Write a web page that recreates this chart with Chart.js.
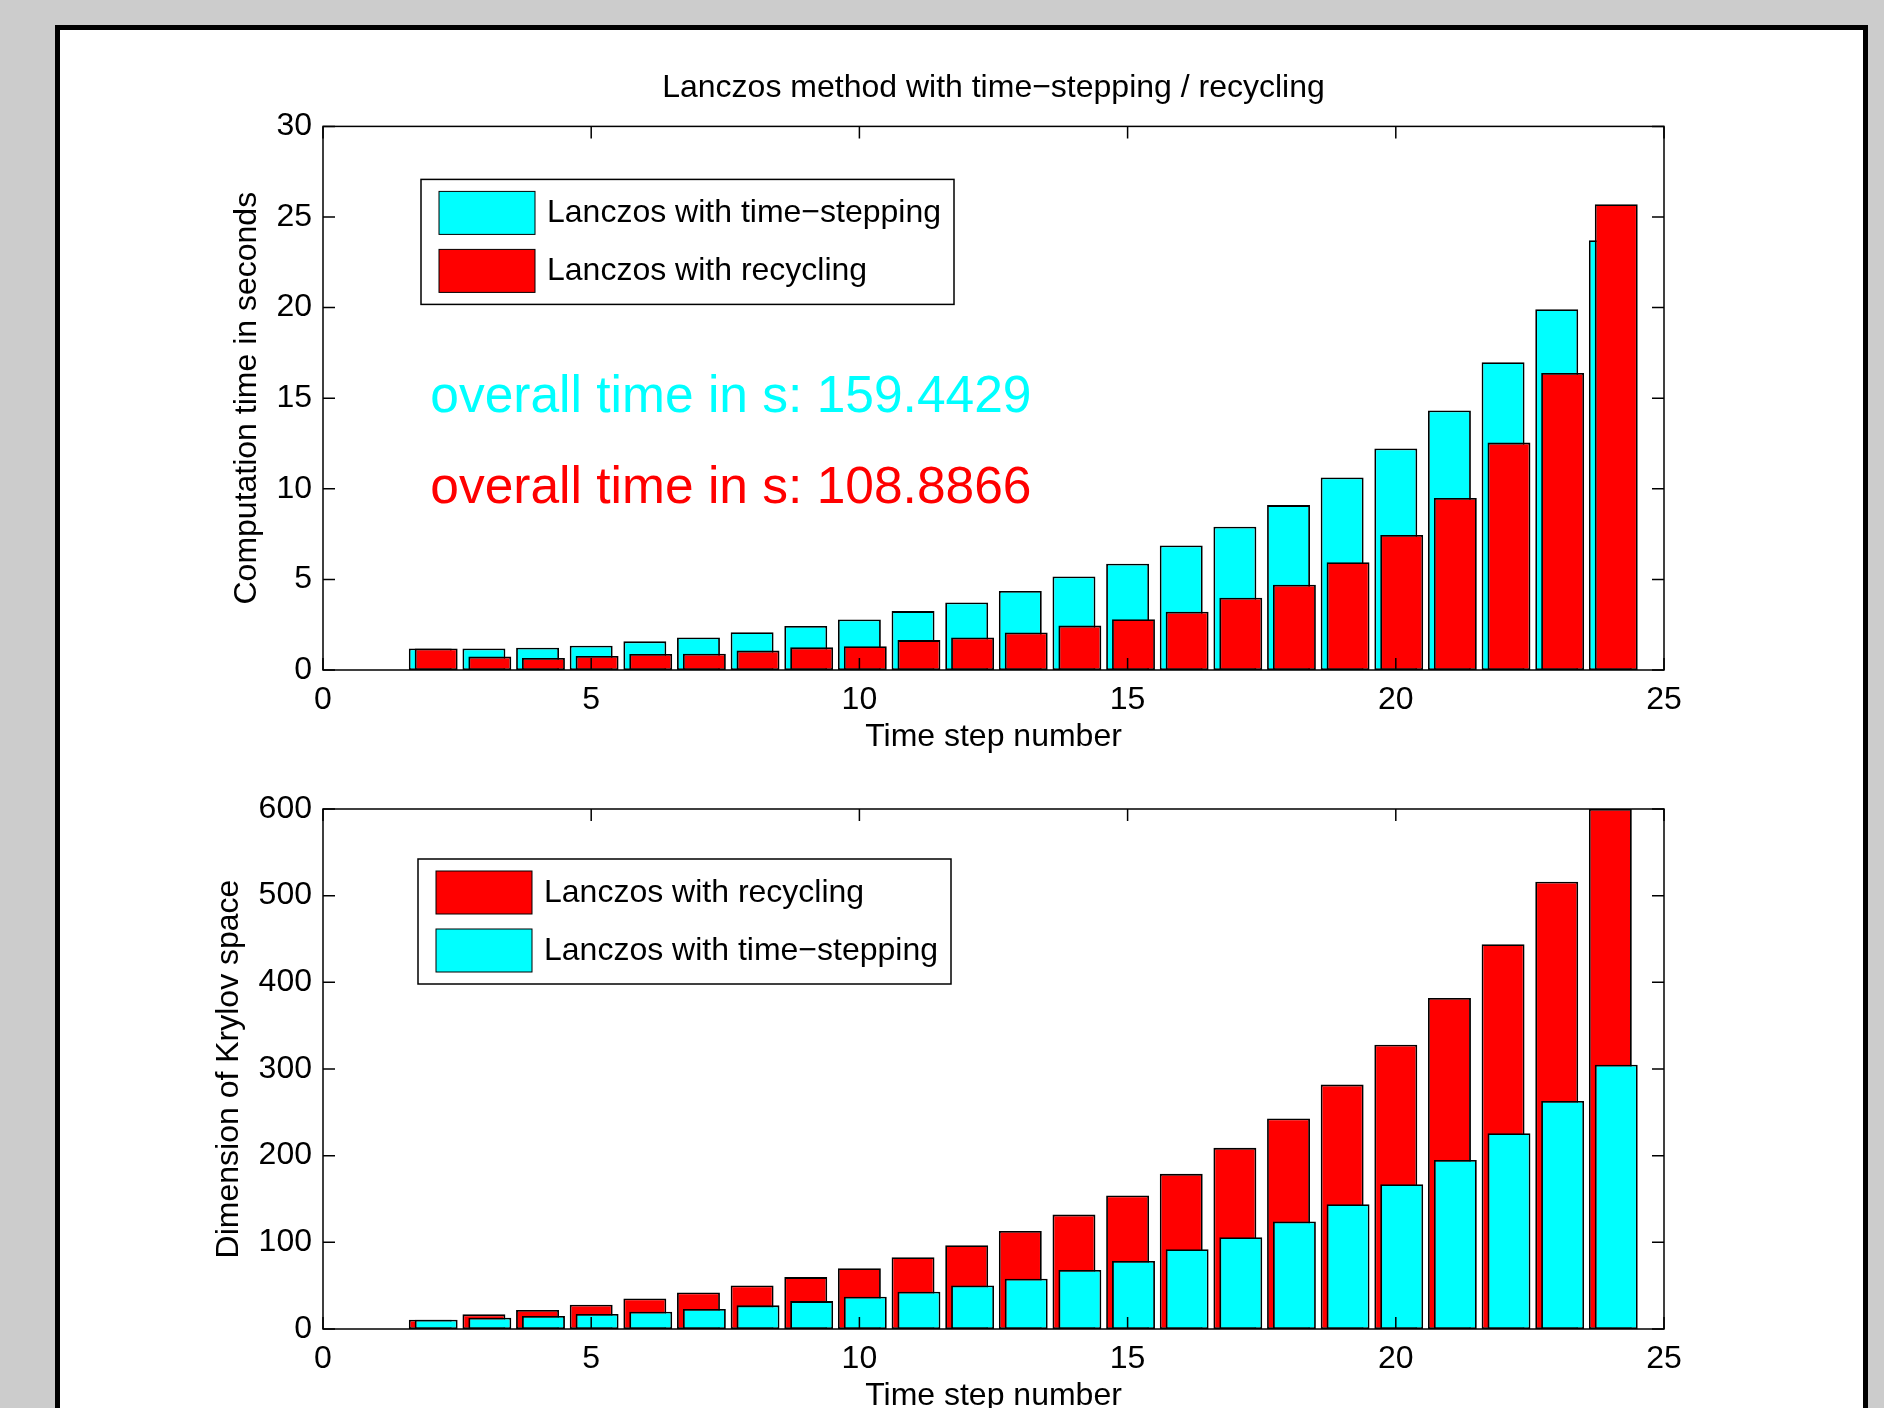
<!DOCTYPE html>
<html>
<head>
<meta charset="utf-8">
<script src="https://cdn.jsdelivr.net/npm/chart.js@4.4.1/dist/chart.umd.min.js"></script>
<style>
  html, body { margin: 0; padding: 0; overflow: hidden; background: #cccccc; width: 1884px; height: 1408px; }
  #panel { position: absolute; left: 55px; top: 25px; width: 1813px; height: 1500px; border: 5px solid #000; background: #fff; box-sizing: border-box; }
  canvas { position: absolute; left: 0; }
  #timeChart { top: 0; }
  #dimChart { top: 760px; }
</style>
</head>
<body>
<div id="panel"></div>
<canvas id="timeChart" width="1884" height="760"></canvas>
<canvas id="dimChart" width="1884" height="680"></canvas>
<script>
// time steps 2..24
var steps = [2, 3, 4, 5, 6, 7, 8, 9, 10, 11, 12, 13, 14, 15, 16, 17, 18, 19, 20, 21, 22, 23, 24];

// computation time in seconds
var timeStepping = [1.19, 1.19, 1.23, 1.34, 1.58, 1.80, 2.08, 2.43, 2.79, 3.25, 3.73, 4.36,
                    5.16, 5.86, 6.87, 7.91, 9.10, 10.62, 12.22, 14.32, 16.98, 19.91, 23.72];
var timeRecycling = [1.19, 0.74, 0.66, 0.77, 0.88, 0.90, 1.07, 1.25, 1.31, 1.65, 1.80, 2.07,
                     2.45, 2.80, 3.22, 3.99, 4.71, 5.95, 7.45, 9.49, 12.55, 16.39, 25.71];

// dimension of Krylov space
var dimRecycling = [10.7, 16.9, 21.9, 28, 35.3, 42.2, 50.3, 59.9, 70.2, 82.9, 96.7, 113,
                    132, 154, 179, 209, 243, 282, 328, 382, 444, 516, 600];
var dimStepping = [10.7, 13, 15, 17.3, 20, 23, 27.3, 32.2, 37.2, 43, 50.3, 58,
                   68, 78.6, 92, 106, 124, 144, 167, 195, 226, 263, 305];

var xTicks = [0, 5, 10, 15, 20, 25];
var yTicksTime = [0, 5, 10, 15, 20, 25, 30];
var yTicksDim = [0, 100, 200, 300, 400, 500, 600];

var totalStepping = 'overall time in s: 159.4429';
var totalRecycling = 'overall time in s: 108.8866';

var CYAN = '#00ffff';
var RED = '#ff0000';
var FONT = '"Liberation Sans", Arial, Helvetica, sans-serif';
var TICK = 12;

Chart.defaults.font.family = FONT;
Chart.defaults.color = '#000';

function pts(vals) {
    return steps.map(function (s, i) { return { x: s, y: vals[i] }; });
}

function setTicks(list) {
    return function (scale) {
        scale.ticks = list.map(function (v) { return { value: v }; });
    };
}

// matlab like box with inward ticks, legend and notes
var matlabBox = {
    id: 'matlabBox',
    afterDatasetsDraw: function (chart, args, opts) {
        var ctx = chart.ctx, a = chart.chartArea, sx = chart.scales.x, sy = chart.scales.y;
        ctx.save();
        ctx.strokeStyle = '#000';
        ctx.lineWidth = 1.5;
        ctx.strokeRect(a.left, a.top, a.right - a.left, a.bottom - a.top);
        ctx.beginPath();
        sx.ticks.forEach(function (t) {
            var px = sx.getPixelForValue(t.value);
            ctx.moveTo(px, a.bottom); ctx.lineTo(px, a.bottom - TICK);
            ctx.moveTo(px, a.top); ctx.lineTo(px, a.top + TICK);
        });
        sy.ticks.forEach(function (t) {
            var py = sy.getPixelForValue(t.value);
            ctx.moveTo(a.left, py); ctx.lineTo(a.left + TICK, py);
            ctx.moveTo(a.right, py); ctx.lineTo(a.right - TICK, py);
        });
        ctx.stroke();

        // legend
        ctx.font = '32px ' + FONT;
        var ds = chart.data.datasets;
        var textW = Math.max.apply(null, ds.map(function (d) { return ctx.measureText(d.label).width; }));
        var x0 = a.left + opts.legendX, y0 = a.top + opts.legendY;
        var w = 126 + textW + 13, h = 125;
        ctx.fillStyle = '#fff';
        ctx.fillRect(x0, y0, w, h);
        ctx.lineWidth = 1.5;
        ctx.strokeRect(x0, y0, w, h);
        ds.forEach(function (d, i) {
            var top = y0 + 12 + i * 58;
            ctx.fillStyle = d.backgroundColor;
            ctx.fillRect(x0 + 18, top, 96, 43);
            ctx.lineWidth = 1;
            ctx.strokeRect(x0 + 18, top, 96, 43);
            ctx.fillStyle = '#000';
            ctx.textBaseline = 'middle';
            ctx.textAlign = 'left';
            ctx.fillText(d.label, x0 + 126, top + 22);
        });

        // overall time notes
        (opts.notes || []).forEach(function (n) {
            ctx.font = '51.5px ' + FONT;
            ctx.fillStyle = n.color;
            ctx.textBaseline = 'middle';
            ctx.textAlign = 'left';
            ctx.fillText(n.text, sx.getPixelForValue(n.x), sy.getPixelForValue(n.y));
        });
        ctx.restore();
    }
};

function makeOptions(o) {
    return {
        responsive: false,
        animation: false,
        layout: { padding: o.padding },
        datasets: { bar: { grouped: false, barPercentage: 1, categoryPercentage: 0.8, borderWidth: 1.8, borderColor: '#000', borderSkipped: false } },
        scales: {
            x: {
                type: 'linear', min: 0, max: 25, offset: false,
                afterBuildTicks: setTicks(xTicks),
                afterFit: function (s) { s.height = 86; },
                grid: { display: false }, border: { display: false },
                ticks: { font: { size: 32 }, padding: 3, maxRotation: 0 },
                title: { display: true, text: 'Time step number', font: { size: 32 }, padding: 0 }
            },
            xs: {
                // shifted axis for the second series
                type: 'linear', min: -0.11, max: 24.89, offset: false, display: false,
                ticks: { includeBounds: false }
            },
            y: {
                min: 0, max: o.ymax,
                afterBuildTicks: setTicks(o.yTicks),
                afterFit: function (s) { s.width = o.yWidth; },
                grid: { display: false }, border: { display: false },
                ticks: { font: { size: 32 }, padding: 3 },
                title: { display: true, text: o.ytitle, font: { size: 32 }, padding: 0 }
            }
        },
        plugins: {
            legend: { display: false },
            tooltip: { enabled: false },
            title: o.title ? { display: true, text: o.title, fullSize: false, font: { size: 32, weight: 'normal' }, color: '#000', padding: { top: 69, bottom: 19 } } : { display: false },
            matlabBox: { legendX: o.legendX, legendY: o.legendY, notes: o.notes }
        }
    };
}

new Chart(document.getElementById('timeChart').getContext('2d'), {
    type: 'bar',
    data: {
        datasets: [{
            label: 'Lanczos with time\u2212stepping',
            backgroundColor: CYAN,
            data: pts(timeStepping),
            xAxisID: 'x',
            order: 1
        }, {
            label: 'Lanczos with recycling',
            backgroundColor: RED,
            data: pts(timeRecycling),
            xAxisID: 'xs',
            order: 0
        }]
    },
    options: makeOptions({
        padding: { left: 228, right: 220, top: 0, bottom: 4 },
        ymax: 30, yTicks: yTicksTime, yWidth: 95,
        ytitle: 'Computation time in seconds',
        title: 'Lanczos method with time\u2212stepping / recycling',
        legendX: 98, legendY: 53,
        notes: [
            { text: totalStepping, color: CYAN, x: 2, y: 15 },
            { text: totalRecycling, color: RED, x: 2, y: 10 }
        ]
    }),
    plugins: [matlabBox]
});

new Chart(document.getElementById('dimChart').getContext('2d'), {
    type: 'bar',
    data: {
        datasets: [{
            label: 'Lanczos with recycling',
            backgroundColor: RED,
            data: pts(dimRecycling),
            xAxisID: 'x',
            order: 1
        }, {
            label: 'Lanczos with time\u2212stepping',
            backgroundColor: CYAN,
            data: pts(dimStepping),
            xAxisID: 'xs',
            order: 0
        }]
    },
    options: makeOptions({
        padding: { left: 210, right: 220, top: 49, bottom: 25 },
        ymax: 600, yTicks: yTicksDim, yWidth: 113,
        ytitle: 'Dimension of Krylov space',
        title: null,
        legendX: 95, legendY: 50,
        notes: []
    }),
    plugins: [matlabBox]
});
</script>
</body>
</html>
